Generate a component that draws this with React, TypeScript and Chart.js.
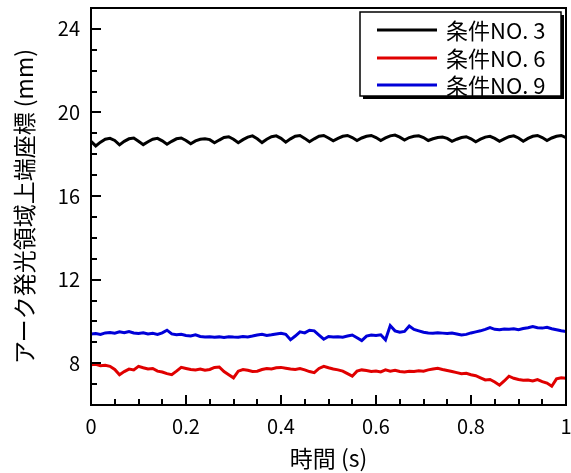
import React, { useEffect, useRef } from "react";
import { Chart, registerables } from "chart.js";

Chart.register(...registerables);

// ---- data ----
const SAMPLE_STEP_S = 0.01; // time between samples (s)

const SERIES_NAMES = ["条件NO. 3", "条件NO. 6", "条件NO. 9"];
const SERIES_COLORS = ["#000000", "#e00000", "#0000d8"];

const NO3_VALUES = [
  18.62, 18.40, 18.58, 18.72, 18.76, 18.66, 18.45, 18.62, 18.74, 18.78,
  18.62, 18.46, 18.60, 18.72, 18.76, 18.64, 18.48, 18.62, 18.74, 18.78,
  18.66, 18.50, 18.64, 18.72, 18.74, 18.70, 18.55, 18.68, 18.80, 18.84,
  18.72, 18.55, 18.70, 18.82, 18.88, 18.74, 18.56, 18.72, 18.84, 18.88,
  18.76, 18.58, 18.74, 18.86, 18.90, 18.76, 18.60, 18.74, 18.86, 18.90,
  18.78, 18.64, 18.76, 18.86, 18.90, 18.80, 18.66, 18.78, 18.86, 18.90,
  18.80, 18.66, 18.78, 18.88, 18.92, 18.82, 18.68, 18.80, 18.86, 18.88,
  18.80, 18.66, 18.74, 18.80, 18.82, 18.76, 18.62, 18.72, 18.80, 18.84,
  18.74, 18.60, 18.72, 18.82, 18.86, 18.76, 18.62, 18.74, 18.84, 18.88,
  18.78, 18.62, 18.76, 18.86, 18.90, 18.80, 18.66, 18.78, 18.86, 18.90,
  18.80,
];

const NO6_VALUES = [
  7.92, 7.95, 7.88, 7.90, 7.85, 7.70, 7.45, 7.60, 7.72, 7.68,
  7.85, 7.78, 7.72, 7.75, 7.62, 7.58, 7.50, 7.45, 7.62, 7.80,
  7.75, 7.70, 7.68, 7.72, 7.66, 7.70, 7.80, 7.82, 7.60, 7.45,
  7.30, 7.62, 7.70, 7.66, 7.60, 7.62, 7.70, 7.75, 7.72, 7.78,
  7.80, 7.76, 7.72, 7.70, 7.74, 7.68, 7.60, 7.55, 7.75, 7.85,
  7.78, 7.72, 7.68, 7.62, 7.50, 7.38, 7.62, 7.68, 7.65, 7.60,
  7.63, 7.58, 7.68, 7.62, 7.66, 7.60, 7.58, 7.62, 7.60, 7.64,
  7.62, 7.68, 7.72, 7.76, 7.70, 7.65, 7.60, 7.55, 7.50, 7.52,
  7.45, 7.40, 7.30, 7.20, 7.22, 7.10, 6.95, 7.15, 7.38, 7.28,
  7.22, 7.18, 7.20, 7.15, 7.22, 7.12, 7.05, 6.90, 7.25, 7.30,
  7.28,
];

const NO9_VALUES = [
  9.40, 9.42, 9.38, 9.45, 9.47, 9.44, 9.50, 9.46, 9.52, 9.45,
  9.42, 9.46, 9.40, 9.43, 9.38, 9.45, 9.58, 9.40, 9.36, 9.38,
  9.33, 9.30, 9.36, 9.28, 9.25, 9.27, 9.24, 9.26, 9.23, 9.27,
  9.25, 9.24, 9.28, 9.26, 9.30, 9.35, 9.38, 9.33, 9.36, 9.40,
  9.43, 9.38, 9.12, 9.30, 9.50, 9.45, 9.58, 9.55, 9.35, 9.15,
  9.28, 9.25, 9.27, 9.24, 9.30, 9.35, 9.22, 9.08, 9.30, 9.35,
  9.33, 9.36, 9.12, 9.80, 9.55, 9.48, 9.52, 9.78, 9.62, 9.55,
  9.48, 9.45, 9.43, 9.46, 9.44, 9.42, 9.45, 9.40, 9.35, 9.38,
  9.45, 9.50, 9.55, 9.62, 9.70, 9.62, 9.60, 9.64, 9.62, 9.65,
  9.60, 9.66, 9.70, 9.76, 9.70, 9.68, 9.72, 9.65, 9.60, 9.55,
  9.52,
];

const X_MIN = 0;
const X_MAX = 1;
const Y_MIN = 6;
const Y_MAX = 25;
const X_MAJOR_TICKS = [0, 0.2, 0.4, 0.6, 0.8, 1];
const X_MINOR_COUNT = 20; // minor every 0.05
const Y_MAJOR_TICKS = [8, 12, 16, 20, 24];
const Y_MINOR_TICKS = [7, 8, 9, 10, 11, 12, 13, 14, 15, 16, 17, 18, 19, 20, 21, 22, 23, 24];

const X_TITLE = "時間 (s)";
const Y_TITLE = "アーク発光領域上端座標 (mm)";

const FONT_FAMILY = '"Noto Sans CJK JP", "Noto Sans", sans-serif';

const toPoints = (vals: number[]) =>
  vals.map((v, i) => ({ x: +(i * SAMPLE_STEP_S).toFixed(4), y: v }));

const framePlugin = {
  id: "frameTicksLegend",
  afterDatasetsDraw(chart: any) {
    const { ctx, chartArea: a, scales } = chart;
    const xs = scales.x;
    const ys = scales.y;
    ctx.save();
    ctx.strokeStyle = "#000";
    ctx.lineWidth = 2;
    ctx.lineCap = "butt";
    // inward ticks on x axis
    ctx.beginPath();
    for (let k = 0; k <= X_MINOR_COUNT; k++) {
      const v = X_MIN + ((X_MAX - X_MIN) * k) / X_MINOR_COUNT;
      const isMajor = X_MAJOR_TICKS.some((m) => Math.abs(m - v) < 1e-9);
      const px = Math.round(xs.getPixelForValue(v));
      const len = isMajor ? 10 : 6;
      ctx.moveTo(px, a.bottom);
      ctx.lineTo(px, a.bottom - len);
    }
    // inward ticks on y axis
    for (const v of Y_MINOR_TICKS) {
      const isMajor = Y_MAJOR_TICKS.includes(v);
      const py = Math.round(ys.getPixelForValue(v));
      const len = isMajor ? 10 : 6;
      ctx.moveTo(a.left, py);
      ctx.lineTo(a.left + len, py);
    }
    ctx.stroke();
    // frame
    ctx.strokeRect(a.left, a.top, a.right - a.left, a.bottom - a.top);

    // legend box
    const bx = 360, by = 12, bw = 201, bh = 84;
    ctx.fillStyle = "#000";
    ctx.fillRect(bx + 3, by + 3, bw, bh);
    ctx.fillStyle = "#fff";
    ctx.fillRect(bx, by, bw, bh);
    ctx.lineWidth = 1.5;
    ctx.strokeRect(bx, by, bw, bh);
    ctx.font = `22px ${FONT_FAMILY}`;
    ctx.textBaseline = "middle";
    ctx.textAlign = "left";
    const rows = [30, 58, 85];
    chart.data.datasets.forEach((ds: any, i: number) => {
      const y = rows[i];
      ctx.strokeStyle = ds.borderColor;
      ctx.lineWidth = 3;
      ctx.beginPath();
      ctx.moveTo(377, y);
      ctx.lineTo(437, y);
      ctx.stroke();
      ctx.fillStyle = "#000";
      ctx.fillText(ds.label, 446, y + 1);
    });
    ctx.restore();
  },
};

export default function App() {
  const ref = useRef<HTMLCanvasElement | null>(null);
  useEffect(() => {
    if (!ref.current) return;
    const series = [NO3_VALUES, NO6_VALUES, NO9_VALUES];
    const chart = new Chart(ref.current, {
      type: "line",
      data: {
        datasets: series.map((vals, i) => ({
          label: SERIES_NAMES[i],
          data: toPoints(vals),
          borderColor: SERIES_COLORS[i],
          backgroundColor: SERIES_COLORS[i],
          borderWidth: 3,
          pointRadius: 0,
          tension: 0,
          fill: false,
        })),
      },
      options: {
        animation: false,
        responsive: false,
        devicePixelRatio: 1,
        layout: { padding: { top: 8, right: 5, left: 0, bottom: 0 } },
        plugins: {
          legend: { display: false },
          tooltip: { enabled: false },
        },
        scales: {
          x: {
            type: "linear",
            min: X_MIN,
            max: X_MAX,
            grid: { display: false, drawTicks: false },
            border: { display: false },
            afterBuildTicks: (s: any) => {
              s.ticks = X_MAJOR_TICKS.map((v) => ({ value: v }));
            },
            afterFit: (s: any) => {
              s.height = 68;
              s.paddingLeft = 0;
              s.paddingRight = 0;
            },
            ticks: {
              padding: 9,
              color: "#000",
              maxRotation: 0,
              autoSkip: false,
              font: { family: FONT_FAMILY, size: 20 },
              callback: (v: any) => String(Number(Number(v).toFixed(1))),
            },
            title: {
              display: true,
              text: X_TITLE,
              color: "#000",
              font: { family: FONT_FAMILY, size: 23 },
              padding: { top: 0, bottom: 1 },
            },
          },
          y: {
            type: "linear",
            min: Y_MIN,
            max: Y_MAX,
            grid: { display: false, drawTicks: false },
            border: { display: false },
            afterBuildTicks: (s: any) => {
              s.ticks = Y_MAJOR_TICKS.map((v) => ({ value: v }));
            },
            afterFit: (s: any) => {
              s.width = 91;
              s.paddingTop = 0;
              s.paddingBottom = 0;
            },
            ticks: {
              padding: 11,
              color: "#000",
              autoSkip: false,
              font: { family: FONT_FAMILY, size: 20 },
            },
            title: {
              display: true,
              text: Y_TITLE,
              color: "#000",
              font: { family: FONT_FAMILY, size: 23 },
              padding: { top: 10, bottom: 0 },
            },
          },
        },
      },
      plugins: [framePlugin],
    });
    return () => chart.destroy();
  }, []);
  return (
    <div style={{ position: "absolute", left: 0, top: 0, width: 571, height: 473, background: "#fff" }}>
      <canvas ref={ref} width={571} height={473} style={{ display: "block" }} />
    </div>
  );
}
